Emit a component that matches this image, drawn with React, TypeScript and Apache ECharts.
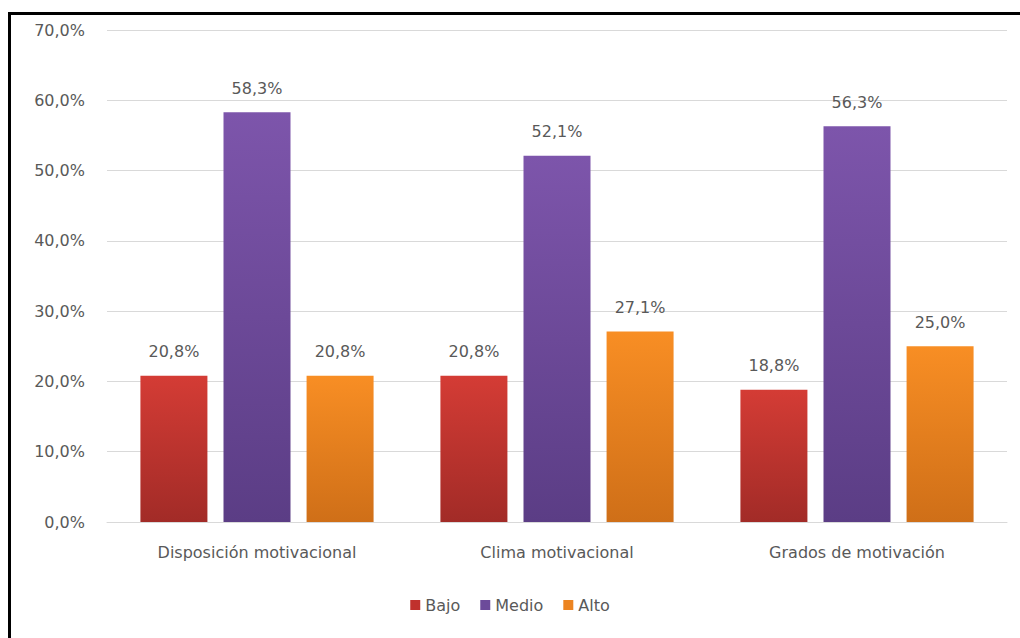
import React, { useEffect, useRef } from "react";
import * as echarts from "echarts";

const categories = ["Disposición motivacional", "Clima motivacional", "Grados de motivación"];
const bajo = [20.8, 20.8, 18.8];
const medio = [58.3, 52.1, 56.3];
const alto = [20.8, 27.1, 25.0];
const seriesNames = ["Bajo", "Medio", "Alto"];

const fmt = (v: number) => v.toFixed(1).replace(".", ",") + "%";
const FONT = "DejaVu Sans";
const FS = 16;
const TXT = "#595959";

function grad(top: string, bottom: string) {
  return new echarts.graphic.LinearGradient(0, 0, 0, 1, [
    { offset: 0, color: top },
    { offset: 1, color: bottom },
  ]);
}

export default function App() {
  const ref = useRef<HTMLDivElement>(null);
  useEffect(() => {
    const chart = echarts.init(ref.current!, null, { renderer: "svg" });
    const colors = [
      grad("#d43c35", "#a22b27"),
      grad("#7d55ab", "#5b3d85"),
      grad("#f88e24", "#cf6f18"),
    ];
    const legendColors = ["#c0312d", "#6c4a9a", "#ec8420"];
    const data = [bajo, medio, alto];
    chart.setOption({
      animation: false,
      backgroundColor: "#ffffff",
      grid: { left: 107, right: 13, top: 30, bottom: 116, containLabel: false },
      legend: {
        bottom: 20,
        left: "center",
        itemWidth: 10,
        itemHeight: 10,
        itemGap: 20,
        itemTextGap: 3,
        icon: "rect",
        textStyle: { fontFamily: FONT, fontSize: FS, color: TXT },
        data: seriesNames.map((n, i) => ({ name: n, itemStyle: { color: legendColors[i] } })),
      },
      xAxis: {
        type: "category",
        data: categories,
        axisLine: { show: true, lineStyle: { color: "#d9d9d9" } },
        axisTick: { show: false },
        axisLabel: { fontFamily: FONT, fontSize: FS, color: TXT, margin: 22 },
      },
      yAxis: {
        type: "value",
        min: 0,
        max: 70,
        interval: 10,
        axisLine: { show: false },
        axisTick: { show: false },
        splitLine: { lineStyle: { color: "#d9d9d9" } },
        axisLabel: {
          fontFamily: FONT,
          fontSize: FS,
          color: TXT,
          margin: 22,
          formatter: (v: number) => fmt(v),
        },
      },
      graphic: [
        { type: "line", shape: { x1: 9.5, y1: 12, x2: 9.5, y2: 638 }, style: { stroke: "#000", lineWidth: 3 } },
        { type: "line", shape: { x1: 8, y1: 13.5, x2: 1020, y2: 13.5 }, style: { stroke: "#000", lineWidth: 3 } },
      ],
      series: seriesNames.map((name, i) => ({
        name,
        type: "bar",
        data: data[i],
        barWidth: 67,
        barGap: "24%",
        itemStyle: { color: colors[i] },
        label: {
          show: true,
          position: "top",
          distance: 16,
          fontFamily: FONT,
          fontSize: FS,
          color: TXT,
          formatter: (p: any) => fmt(p.value),
        },
      })),
    });
    return () => chart.dispose();
  }, []);
  return (
    <div
      ref={ref}
      style={{ position: "fixed", left: 0, top: 0, width: 1020, height: 638 }}
    />
  );
}
